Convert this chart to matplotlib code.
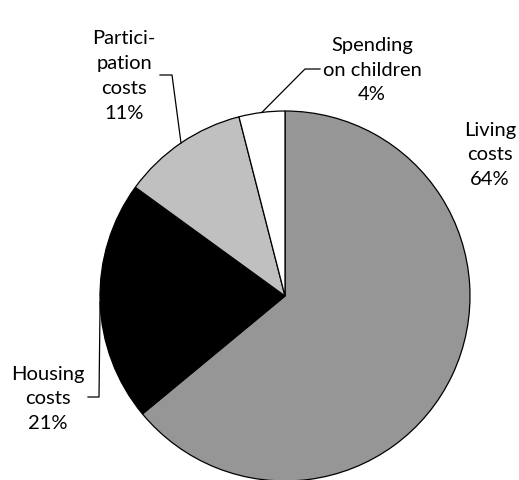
import numpy as np
import matplotlib.pyplot as plt

# spending shares, drawn clockwise from 12 o'clock
categories = ["Living\ncosts", "Housing\ncosts", "Partici-\npation\ncosts", "Spending\non children"]
shares = [64, 21, 11, 4]
colors = ["#969696", "#000000", "#c0c0c0", "#ffffff"]

W, H = 519, 481
center = (285, H - 297)
radius = 185

fig = plt.figure(figsize=(W / 100, H / 100), dpi=100)
ax = fig.add_axes([0, 0, 1, 1])

wedges, _ = ax.pie(
    shares,
    colors=colors,
    startangle=90,
    counterclock=False,
    center=center,
    radius=radius,
    wedgeprops={"edgecolor": "black", "linewidth": 0.9},
    frame=True,
)
ax.set_xlim(0, W)
ax.set_ylim(0, H)
ax.set_aspect("equal")
ax.axis("off")


def edge_point(wedge):
    mid = np.deg2rad((wedge.theta1 + wedge.theta2) / 2)
    return center[0] + radius * np.cos(mid), center[1] + radius * np.sin(mid)


font = dict(family=["Lato", "DejaVu Sans"], fontsize=14.5, ha="center", va="center",
            linespacing=1.55)

# label text positions (pixel coords, y from top) and leader elbows
label_pos = [(490, 155), (48, 399), (124, 76), (372, 70)]
elbows = [None, [(99, 398), (88, 398)], [(172, 76), (160, 76)], [(305, 70), (320, 70)]]

for wedge, name, share, (lx, ly), elbow in zip(wedges, categories, shares, label_pos, elbows):
    ax.text(lx, H - ly, f"{name}\n{share}%", **font)
    if elbow:
        px, py = edge_point(wedge)
        xs = [px] + [p[0] for p in elbow]
        ys = [py] + [H - p[1] for p in elbow]
        ax.plot(xs, ys, color="black", linewidth=0.9)

fig.savefig("out.png", dpi=100, facecolor="white")
